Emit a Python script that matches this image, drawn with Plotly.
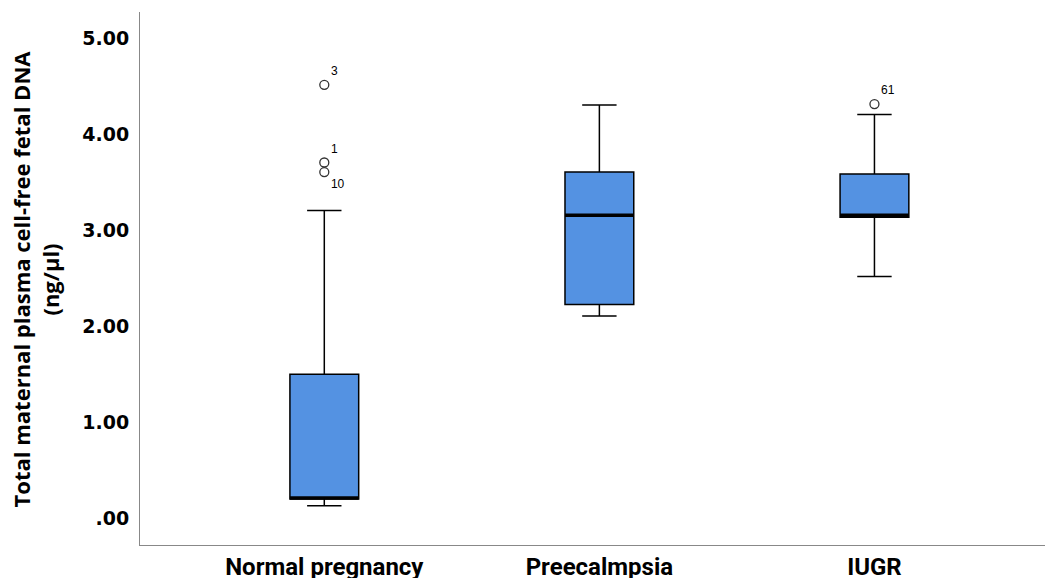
import plotly.graph_objects as go

categories = ["Normal pregnancy", "Preecalmpsia", "IUGR"]
q1 = [0.20, 2.23, 3.14]
median = [0.21, 3.16, 3.16]
q3 = [1.50, 3.61, 3.59]
lower = [0.13, 2.11, 2.52]
upper = [3.21, 4.31, 4.21]

outlier_group = [0, 0, 0, 2]
outlier_value = [4.52, 3.71, 3.61, 4.32]
outlier_label = ["3", "1", "10", "61"]
outlier_pos = ["top right", "top right", "bottom right", "top right"]

y_ticks = [0, 1, 2, 3, 4, 5]
y_ticktext = [".00", "1.00", "2.00", "3.00", "4.00", "5.00"]
y_title = "Total maternal plasma cell-free fetal DNA<br>(ng/µl)"

pos = list(range(len(categories)))
box_width = 0.25
fill = "#5492E2"

fig = go.Figure()
fig.add_trace(go.Box(
    x=pos, q1=q1, median=median, q3=q3, lowerfence=lower, upperfence=upper,
    fillcolor=fill, line=dict(color="black", width=1.5), width=box_width,
    whiskerwidth=0.5, boxpoints=False, hoverinfo="skip", showlegend=False,
))
for i, m in zip(pos, median):
    fig.add_shape(type="line", x0=i - box_width / 2, x1=i + box_width / 2, y0=m, y1=m,
                  line=dict(color="black", width=3.5), layer="above")

fig.add_trace(go.Scatter(
    x=[pos[g] for g in outlier_group], y=outlier_value, mode="markers+text",
    marker=dict(symbol="circle-open", size=9, color="#333333", line=dict(width=1.3)),
    text=outlier_label, textposition=outlier_pos,
    textfont=dict(family="Liberation Sans, Arial", size=12, color="black"),
    showlegend=False, hoverinfo="skip",
))

fig.add_annotation(
    text=y_title, xref="paper", yref="paper", x=-0.115, y=0.5,
    xanchor="center", yanchor="middle", textangle=-90, showarrow=False,
    font=dict(family="Open Sans", size=22, color="black", weight="bold"),
)

fig.update_layout(
    width=1045, height=578,
    margin=dict(l=140, r=0, t=12, b=33),
    plot_bgcolor="white", paper_bgcolor="white",
    xaxis=dict(
        range=[-0.67, 2.62], tickvals=pos, ticktext=categories, automargin=False,
        showgrid=False, zeroline=False, showline=True, linecolor="#888888", linewidth=1,
        ticks="", ticklabelstandoff=0,
        tickfont=dict(family="Liberation Sans Narrow, Arial Narrow, Roboto", size=24, color="black", weight="bold"),
    ),
    yaxis=dict(
        range=[-0.28, 5.28], tickvals=y_ticks, ticktext=y_ticktext, automargin=False,
        showgrid=False, zeroline=False, showline=True, linecolor="#888888", linewidth=1,
        ticks="", ticklabelstandoff=6,
        tickfont=dict(family="DejaVu Sans", size=19, color="black", weight="bold"),
    ),
)

fig.write_html("out.html", config={"displayModeBar": False},
               post_script="document.body.style.margin='0';document.body.style.overflow='hidden';")
